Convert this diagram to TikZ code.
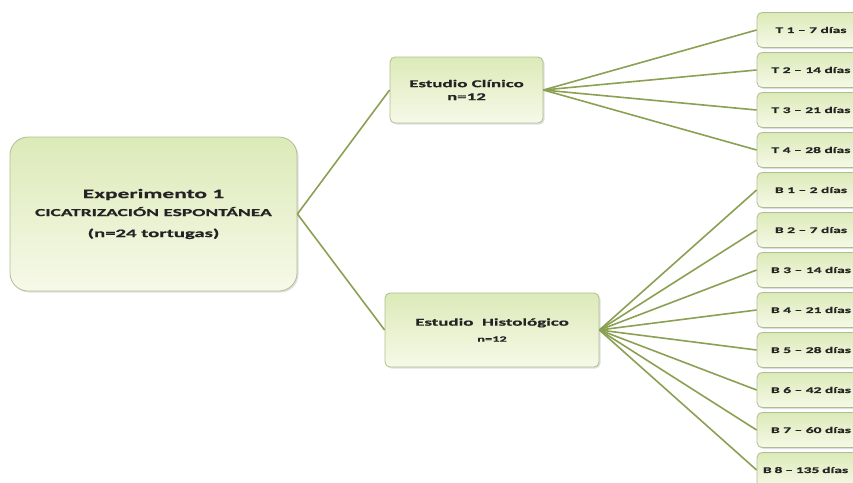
\documentclass[tikz,border=0pt]{standalone}
\usepackage{fontspec}
\usetikzlibrary{shadows}
\newfontfamily\cajafont[FakeStretch=1.8,FakeBold=0.6]{Carlito}
\definecolor{ramaverde}{RGB}{138,160,82}
\definecolor{cajaborde}{RGB}{175,190,145}
\definecolor{cajaarriba}{RGB}{220,234,184}
\definecolor{cajaabajo}{RGB}{246,249,232}
\definecolor{cajatexto}{RGB}{35,35,35}

\begin{document}
\begin{tikzpicture}[x=1pt,y=-1pt]
    \tikzstyle{caja}=[draw=cajaborde, line width=0.8pt, rounded corners=5pt, top color=cajaarriba, bottom color=cajaabajo, drop shadow={opacity=0.25, shadow xshift=1.5pt, shadow yshift=-1.5pt}, font=\cajafont\bfseries, text=cajatexto, align=center, inner sep=0pt]
    \tikzstyle{dia}=[caja, minimum width=108pt, minimum height=35pt, font=\cajafont\bfseries\fontsize{8.6}{10}\selectfont]
    \tikzstyle{rama}=[draw=ramaverde, line width=1.6pt]
    \useasboundingbox (0,0) rectangle (853,482);
    \clip (0,0) rectangle (853,482);
    \node[caja, rounded corners=18pt, minimum width=287pt, minimum height=154pt] (exp) at (153.5,214)
        {{\fontsize{13}{15}\selectfont Experimento 1}\\[6pt]
         {\fontsize{10.8}{13}\selectfont CICATRIZACIÓN ESPONTÁNEA}\\[9pt]
         {\fontsize{11.5}{14}\selectfont (n=24 tortugas)}};
    \node[caja, minimum width=153pt, minimum height=66pt, font=\cajafont\bfseries\fontsize{10.5}{13}\selectfont] (clin) at (466.5,90)
        {Estudio Clínico\\n=12};
    \node[caja, minimum width=214pt, minimum height=74pt] (hist) at (492,330)
        {{\fontsize{10.5}{12}\selectfont Estudio\ \ Histológico}\\[4pt]
         {\fontsize{8}{10}\selectfont n=12}};
    \node[dia] (t1) at (811,30) {T 1 – 7 días};
    \node[dia] (t2) at (811,70) {T 2 – 14 días};
    \node[dia] (t3) at (811,110) {T 3 – 21 días};
    \node[dia] (t4) at (811,150) {T 4 – 28 días};
    \node[dia] (b1) at (811,190) {B 1 – 2 días};
    \node[dia] (b2) at (811,230) {B 2 – 7 días};
    \node[dia] (b3) at (811,270) {B 3 – 14 días};
    \node[dia] (b4) at (811,310) {B 4 – 21 días};
    \node[dia] (b5) at (811,350) {B 5 – 28 días};
    \node[dia] (b6) at (811,390) {B 6 – 42 días};
    \node[dia] (b7) at (811,430) {B 7 – 60 días};
    \node[dia, text width=96pt, align=left] (b8) at (811,470) {B 8 – 135 días};
    \draw[rama] (exp.east) -- (clin.west);
    \draw[rama] (exp.east) -- (hist.west);
    \draw[rama] (clin.east) -- (t1.west);
    \draw[rama] (clin.east) -- (t2.west);
    \draw[rama] (clin.east) -- (t3.west);
    \draw[rama] (clin.east) -- (t4.west);
    \draw[rama] (hist.east) -- (b1.west);
    \draw[rama] (hist.east) -- (b2.west);
    \draw[rama] (hist.east) -- (b3.west);
    \draw[rama] (hist.east) -- (b4.west);
    \draw[rama] (hist.east) -- (b5.west);
    \draw[rama] (hist.east) -- (b6.west);
    \draw[rama] (hist.east) -- (b7.west);
    \draw[rama] (hist.east) -- (b8.west);
\end{tikzpicture}
\end{document}
